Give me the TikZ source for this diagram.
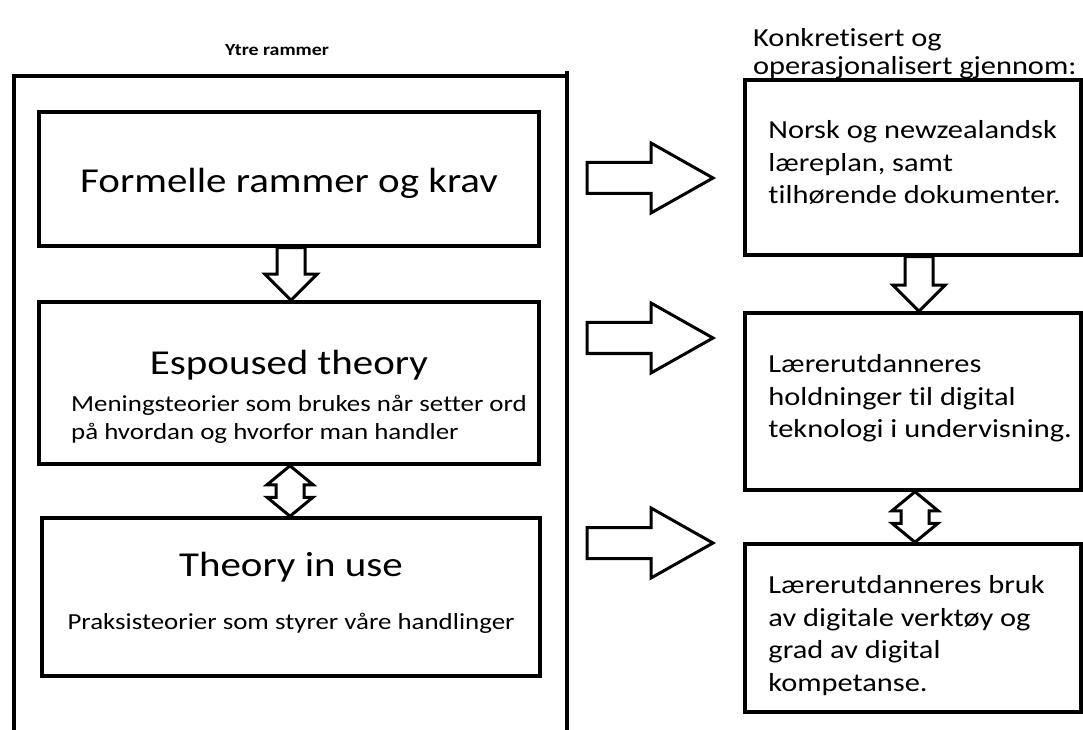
\documentclass[tikz,border=0pt]{standalone}
\usepackage{fontspec}
\setmainfont{Carlito}[FakeStretch=1.17, Ligatures=NoCommon]
\usetikzlibrary{calc}
\newcommand{\headfont}{\fontsize{35}{41}\selectfont}
\newcommand{\subfont}{\fontsize{23}{28}\selectfont}
\newcommand{\rfont}{\fontsize{26}{32.5}\selectfont}
\newcommand{\fatright}[1]{\draw[blk] (#1) ++(0,15.5) -- ++(64,0) -- ++(0,19.5) -- ++(62,-35) -- ++(-62,-35) -- ++(0,19.5) -- ++(-64,0) -- cycle;}
\newcommand{\fatdown}[2]{\draw[blk] let \p1=(#1), \p2=(#2) in (\x1-14pt,\y1) -- (\x1+14pt,\y1) -- (\x1+14pt,\y2+26pt) -- (\x1+26pt,\y2+26pt) -- (\x1,\y2) -- (\x1-26pt,\y2+26pt) -- (\x1-14pt,\y2+26pt) -- cycle;}
\newcommand{\fatboth}[2]{\draw[blk] let \p1=(#1), \p2=(#2) in (\x1,\y1) -- (\x1+23pt,\y1-19pt) -- (\x1+14pt,\y1-19pt) -- (\x1+14pt,\y2+19pt) -- (\x1+23pt,\y2+19pt) -- (\x1,\y2) -- (\x1-23pt,\y2+19pt) -- (\x1-14pt,\y2+19pt) -- (\x1-14pt,\y1-19pt) -- (\x1-23pt,\y1-19pt) -- cycle;}
\tikzset{
  box/.style={draw, line width=3.5pt, inner sep=0pt},
  frame/.style={line width=4.5pt},
  blk/.style={line width=3pt, line join=miter},
  rtxt/.style={font=\rfont, align=left, inner sep=0pt, anchor=north west}
}
\begin{document}
\begin{tikzpicture}[x=1pt,y=1pt]
\useasboundingbox (0,0) rectangle (1083,729);
\draw[frame] (14,-5) -- (14,653) -- (567,653);
\draw[frame] (567,658) -- (567,-5);
\node[font=\bfseries\fontsize{17}{20}\selectfont] (ytre) at (277,679) {Ytre rammer};

\node[box, minimum width=500pt, minimum height=134pt] (b1) at (289,550) {};
\node[box, minimum width=500pt, minimum height=162pt] (b2) at (289,346) {};
\node[box, minimum width=498pt, minimum height=158pt] (b3) at (291,132) {};
\node[font=\headfont] (h1) at (289,546) {Formelle rammer og krav};
\node[font=\headfont] (h2) at (289,364) {Espoused theory};
\node[font=\subfont, align=left, inner sep=0pt, anchor=north west] (s2) at (71,334) {Meningsteorier som brukes når setter ord\\på hvordan og hvorfor man handler};
\node[font=\headfont] (h3) at (291,162) {Theory in use};
\node[font=\subfont, inner sep=0pt, anchor=base] (s3) at (291,100) {Praksisteorier som styrer våre handlinger};

\fatdown{$(b1.south)+(2,0)$}{$(b2.north)+(2,0)$}
\fatboth{$(b2.south)+(1,0)$}{$(b3.north)+(-1,0)$}

\node[rtxt] (konk) at (753,701) {Konkretisert og\\[-4.5pt]operasjonalisert gjennom:};
\node[box, minimum width=336pt, minimum height=175pt] (bA) at (913,561.5) {};
\node[box, minimum width=336pt, minimum height=177pt] (bB) at (913,327.5) {};
\node[box, minimum width=336pt, minimum height=168pt] (bC) at (913,101) {};
\node[rtxt] (tA) at ([xshift=25pt,yshift=-42pt]bA.north west) {Norsk og newzealandsk\\læreplan, samt\\tilhørende dokumenter.};
\node[rtxt] (tB) at ([xshift=25pt,yshift=-43pt]bB.north west) {Lærerutdanneres\\holdninger til digital\\teknologi i undervisning.};
\node[rtxt] (tC) at ([xshift=25pt,yshift=-33pt]bC.north west) {Lærerutdanneres bruk\\av digitale verktøy og\\grad av digital\\kompetanse.};

\fatdown{$(bA.south)+(6,0)$}{$(bB.north)+(6,0)$}
\fatboth{$(bB.south)+(2,0)$}{$(bC.north)+(2,0)$}

\coordinate (r1) at (587,551);
\coordinate (r2) at (587,391);
\coordinate (r3) at (587,186);
\fatright{r1}
\fatright{r2}
\fatright{r3}
\end{tikzpicture}
\end{document}
